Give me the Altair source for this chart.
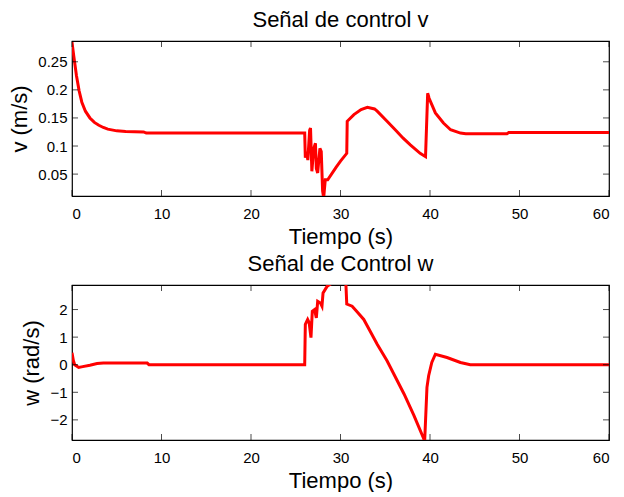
import altair as alt
import pandas as pd

# ---- data ----
t_v = [0, 0.2, 0.5, 0.8, 1.1, 1.5, 2.0, 2.5, 3.0, 3.5, 4.0, 5.0, 6.0, 8.0, 8.3,
       26.0, 26.07, 26.2, 26.35, 26.55, 26.65, 26.8, 27.0, 27.2, 27.3, 27.45,
       27.7, 27.85, 28.0, 28.12, 28.3, 28.57, 29.5, 30.0, 30.7, 30.75, 31.5,
       32.3, 33.0, 33.8, 34.1, 35.2, 36.3, 37.0, 37.8, 38.9, 39.5, 39.74, 39.9,
       40.6, 41.5, 42.3, 43.4, 44.0, 46.4, 48.6, 48.8, 60.0]
v_vals = [0.285, 0.26, 0.225, 0.198, 0.178, 0.162, 0.150, 0.142, 0.137, 0.133,
          0.130, 0.127, 0.126, 0.125, 0.123,
          0.123, 0.079, 0.090, 0.075, 0.128, 0.132, 0.055, 0.095, 0.105, 0.060,
          0.052, 0.096, 0.090, 0.020, 0.008, 0.040, 0.040, 0.062, 0.073, 0.087,
          0.144, 0.156, 0.165, 0.169, 0.166, 0.162, 0.144, 0.126, 0.114, 0.102,
          0.087, 0.081, 0.194, 0.185, 0.159, 0.141, 0.129, 0.123, 0.122, 0.122,
          0.122, 0.124, 0.124]

t_w = [0, 0.15, 0.3, 0.75, 1.2, 2.0, 2.8, 3.5, 8.4, 8.6, 26.0, 26.07, 26.33,
       26.5, 26.7, 26.85, 27.1, 27.3, 27.45, 27.75, 27.93, 28.05, 28.5, 29.0,
       30.6, 30.7, 31.3, 31.8, 32.6, 33.3, 34.1, 35.2, 37.1, 38.2, 39.3, 39.4,
       39.66, 39.85, 40.2, 40.6, 41.9, 43.4, 44.5, 60.0]
w_vals = [0.43, 0.15, 0.0, -0.1, -0.07, -0.02, 0.04, 0.06, 0.06, 0.0, 0.0, 1.46,
          1.64, 1.52, 0.98, 1.94, 2.0, 1.70, 2.30, 2.24, 2.12, 2.60, 2.84, 2.95,
          2.95, 2.2, 2.12, 1.94, 1.64, 1.22, 0.74, 0.14, -1.06, -1.84, -2.68,
          -2.8, -0.82, -0.40, 0.08, 0.38, 0.26, 0.08, 0.0, 0.0]

x_ticks = [0, 10, 20, 30, 40, 50, 60]
v_ticks = [0.05, 0.1, 0.15, 0.2, 0.25]
w_ticks = [-2, -1, 0, 1, 2]

W, H = 537, 155
FONT = "Liberation Sans"


def panel(t, vals, ycol, ydomain, yticks, ytitle, title):
    df = pd.DataFrame({"t": t, ycol: vals})
    xs = alt.Scale(domain=[0, 60], nice=False, zero=False)
    ys = alt.Scale(domain=ydomain, nice=False, zero=False)
    xax = alt.Axis(values=x_ticks, title="Tiempo (s)", format="d",
                   labelPadding=10, titlePadding=5)
    yax = alt.Axis(values=yticks, title=ytitle, format="~g",
                   labelPadding=5, titlePadding=6)
    X = alt.X("t:Q", scale=xs, axis=xax)
    Y = alt.Y(f"{ycol}:Q", scale=ys, axis=yax)

    line = alt.Chart(df).mark_line(color="#ff0000", strokeWidth=3, clip=True).encode(x=X, y=Y)

    xt = pd.DataFrame({"t": x_ticks})
    yt = pd.DataFrame({ycol: yticks})
    tb = alt.Chart(xt).mark_tick(color="black", thickness=1, size=6, orient="vertical").encode(
        x=X, y=alt.value(H - 3))
    tt = alt.Chart(xt).mark_tick(color="black", thickness=1, size=6, orient="vertical").encode(
        x=X, y=alt.value(3))
    tl = alt.Chart(yt).mark_tick(color="black", thickness=1, size=6, orient="horizontal").encode(
        y=Y, x=alt.value(3))
    tr = alt.Chart(yt).mark_tick(color="black", thickness=1, size=6, orient="horizontal").encode(
        y=Y, x=alt.value(W - 3))

    return alt.layer(line, tb, tt, tl, tr).properties(
        width=W, height=H,
        title=alt.TitleParams(title, fontSize=22, font=FONT, fontWeight="normal",
                              color="black", offset=9),
    )


top = panel(t_v, v_vals, "v", [0.011, 0.287], v_ticks, "v (m/s)", "Señal de control v")
bottom = panel(t_w, w_vals, "w", [-2.73, 2.89], w_ticks, "w (rad/s)", "Señal de Control w")

chart = alt.vconcat(top, bottom, spacing=4).properties(padding=0).configure(
    font=FONT
).configure_view(
    stroke="black", strokeWidth=1.2
).configure_axis(
    grid=False, ticks=False, domain=False,
    labelFont=FONT, titleFont=FONT, labelFontSize=15, titleFontSize=22,
    titleFontWeight="normal", labelColor="black", titleColor="black",
)

chart.save("out.html", embed_options={"renderer": "svg", "actions": False})
